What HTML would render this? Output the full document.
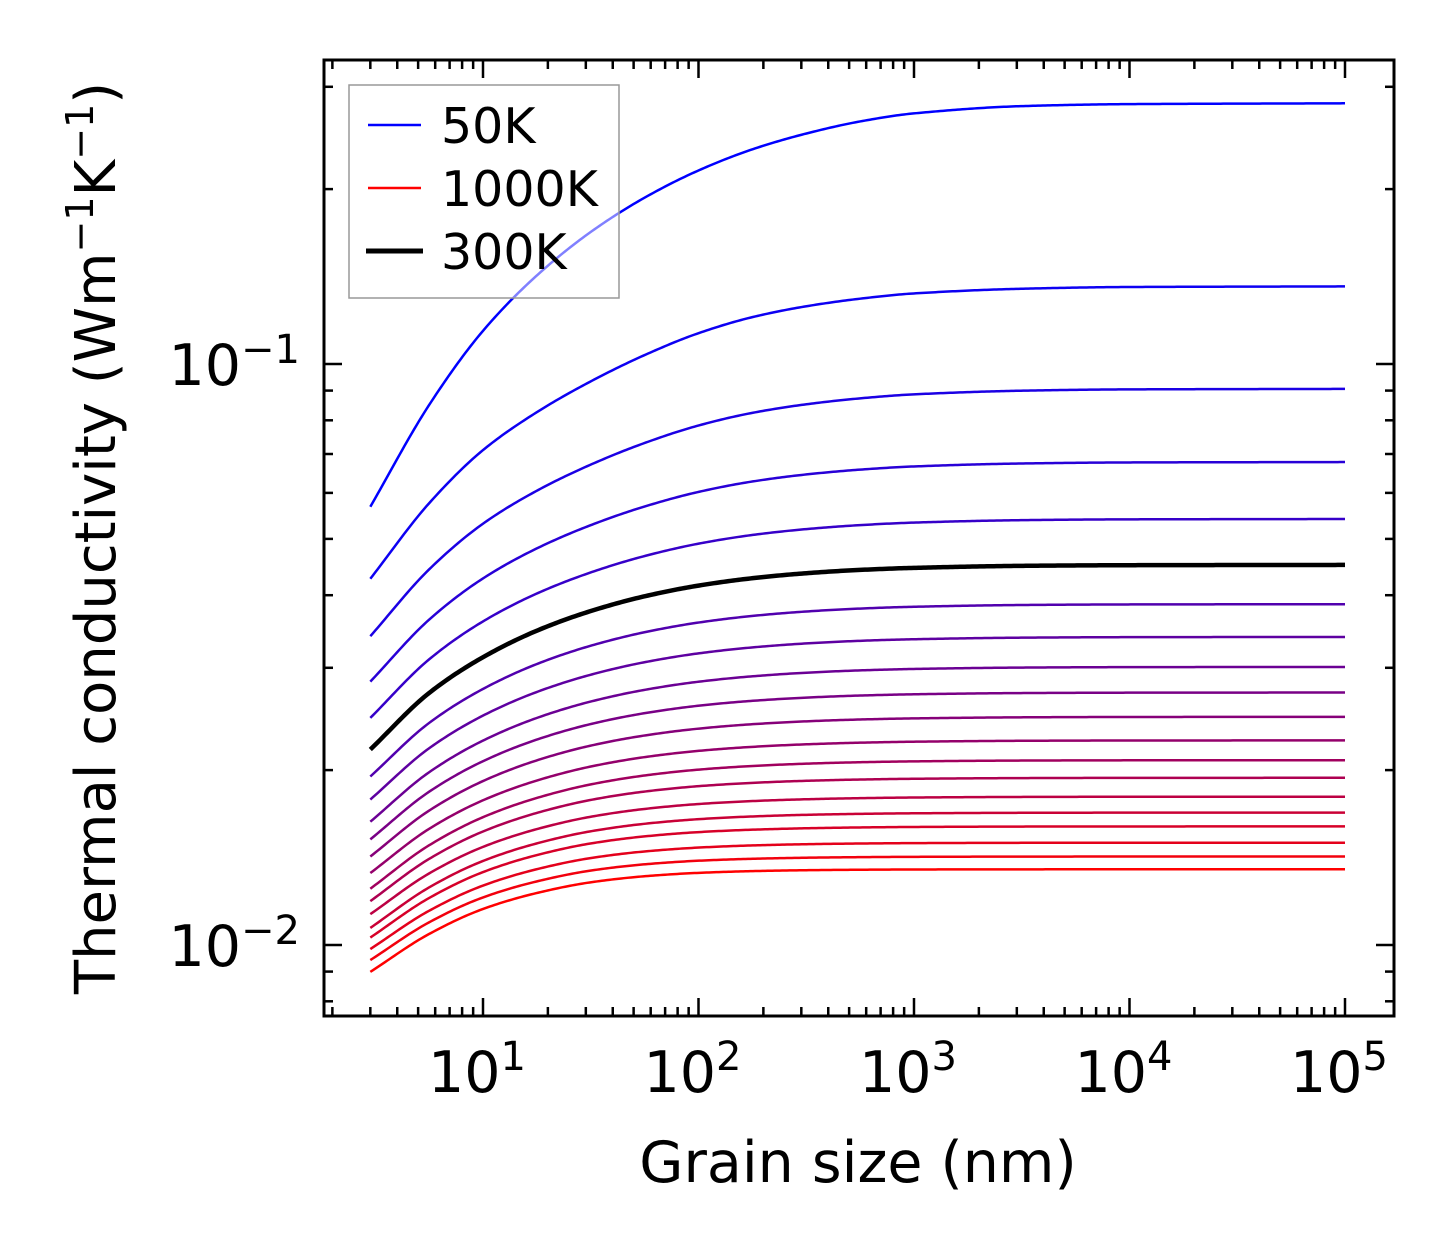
<!DOCTYPE html>
<html><head><meta charset="utf-8"><style>
html,body{margin:0;padding:0;background:#fff}
svg{display:block;font-family:"DejaVu Sans","Liberation Sans",sans-serif}
</style></head><body>
<svg id="chart" width="1454" height="1254" viewBox="0 0 1454 1254" xmlns="http://www.w3.org/2000/svg">
<g id="curves"></g>
<g id="axes"></g>
<text x="858" y="1182" font-size="57" text-anchor="middle">Grain size (nm)</text>
<text transform="translate(115,538) rotate(-90)" font-size="56" text-anchor="middle">Thermal conductivity (Wm<tspan baseline-shift="super" font-size="38">−1</tspan>K<tspan baseline-shift="super" font-size="38">−1</tspan>)</text>
<g>
<rect x="349" y="85" width="270" height="213" fill="rgba(255,255,255,0.5)" stroke="#999" stroke-width="1.5"/>
<g><line x1="368" y1="125" x2="421" y2="125" stroke="#00f" stroke-width="2.5"/><text x="441" y="143" font-size="49">50K</text></g>
<g><line x1="368" y1="188" x2="421" y2="188" stroke="#f00" stroke-width="2.5"/><text x="441" y="206" font-size="49">1000K</text></g>
<g><line x1="366" y1="251" x2="423" y2="251" stroke="#000" stroke-width="5"/><text x="441" y="269" font-size="49">300K</text></g>
</g>
</svg>
<script>
const temperatures=[50,100,150,200,250,300,350,400,450,500,550,600,650,700,750,800,850,900,950,1000];
const kBulk=[0.281,0.136,0.0906,0.0678,0.0541,0.0451,0.0386,0.0339,0.0301,0.0272,0.0247,0.0225,0.0208,0.0194,0.0180,0.0169,0.0160,0.0150,0.0142,0.0135];
const kAt3nm=[0.0568,0.0427,0.0340,0.0284,0.0246,0.0217,0.0195,0.0178,0.0163,0.0152,0.0142,0.0133,0.0125,0.0119,0.0113,0.0107,0.0103,0.00984,0.00942,0.00899];
const grainSizes=[3,5.62,10,17.8,31.6,56.2,100,178,316,562,1000,3162,10000,100000];
// fraction of (log) reduction remaining at each grain size, read for reference curves
const profileTemps=[50,100,300,1000];
const profile50K=[1,0.748,0.564,0.4265,0.319,0.234,0.1665,0.114,0.075,0.045,0.025,0.007,0.002,0];
const profile100K=[1,0.742,0.56,0.43,0.325,0.235,0.16,0.105,0.068,0.042,0.024,0.008,0.002,0];
const profile300K=[1,0.694,0.500,0.356,0.25,0.17,0.112,0.072,0.045,0.027,0.016,0.005,0.0015,0];
const profile1000K=[1,0.631,0.387,0.231,0.127,0.068,0.035,0.018,0.009,0.0045,0.002,0.0005,0.0001,0];
const xTicks=[1,2,3,4,5];
const yTicks=[-2,-1];

const L=324,R=1394,T=60,B=1016;
const X=v=>483+(Math.log10(v)-1)*215.5;
const Y=v=>364-(Math.log10(v)+1)*581;
const NS="http://www.w3.org/2000/svg";
function mk(tag,attrs,parent){const e=document.createElementNS(NS,tag);for(const k in attrs)e.setAttribute(k,attrs[k]);parent.appendChild(e);return e;}
const cg=document.getElementById('curves');
const ag=document.getElementById('axes');
const profiles=[profile50K,profile100K,profile300K,profile1000K];
function profileFor(temp){
  let j=0;while(j<profileTemps.length-2&&temp>profileTemps[j+1])j++;
  const t=Math.max(0,Math.min(1,(temp-profileTemps[j])/(profileTemps[j+1]-profileTemps[j])));
  return profiles[j].map((v,k)=>v+(profiles[j+1][k]-v)*t);
}
function monotone(xs,ys){
  const n=xs.length,d=[],m=[];
  for(let i=0;i<n-1;i++)d.push((ys[i+1]-ys[i])/(xs[i+1]-xs[i]));
  m[0]=d[0];m[n-1]=d[n-2];
  for(let i=1;i<n-1;i++)m[i]=(d[i-1]*d[i]<=0)?0:2/(1/d[i-1]+1/d[i]);
  return x=>{
    let i=0;while(i<n-2&&x>xs[i+1])i++;
    const h=xs[i+1]-xs[i],t=(x-xs[i])/h,t2=t*t,t3=t2*t;
    return (2*t3-3*t2+1)*ys[i]+(t3-2*t2+t)*h*m[i]+(-2*t3+3*t2)*ys[i+1]+(t3-t2)*h*m[i+1];
  };
}
const lg=grainSizes.map(g=>Math.log10(g));
const order=temperatures.map((t,i)=>i).filter(i=>temperatures[i]!==300).concat(temperatures.indexOf(300));
order.forEach(i=>{
  const fn=monotone(lg,profileFor(temperatures[i]));
  const lb=Math.log10(kBulk[i]),ls=Math.log10(kAt3nm[i]);
  const a=lg[0],b=lg[lg.length-1];
  let d='';
  for(let s=0;s<=400;s++){
    const lx=a+(b-a)*s/400;
    const v=Math.pow(10,lb+(ls-lb)*fn(lx));
    d+=(s?'L':'M')+X(Math.pow(10,lx)).toFixed(2)+','+Y(v).toFixed(2);
  }
  const f=i/(temperatures.length-1);
  const is300=temperatures[i]===300;
  const col=is300?'#000':`rgb(${Math.round(255*f)},0,${Math.round(255*(1-f))})`;
  const p=mk('path',{d:d,fill:'none',stroke:col,'stroke-width':is300?4.5:2.5,'stroke-linejoin':'round'},cg);
  
  
});

const fr=mk('rect',{x:L,y:T,width:R-L,height:B-T,fill:'none',stroke:'#000','stroke-width':3},ag);


for(let d=0;d<=5;d++){
  for(let m=1;m<10;m++){
    const v=m*Math.pow(10,d);const x=X(v);
    if(x<L+1||x>R-1)continue;
    const len=m===1?18:9;
    mk('line',{x1:x,y1:B,x2:x,y2:B-len,stroke:'#000','stroke-width':2.5},ag);
    mk('line',{x1:x,y1:T,x2:x,y2:T+len,stroke:'#000','stroke-width':2.5},ag);
  }
}
xTicks.forEach(e=>{
  const t=mk('text',{x:X(Math.pow(10,e))-6,y:1092,'font-size':57,'text-anchor':'middle'},ag);
  t.innerHTML=`10<tspan dy="-22" font-size="40">${e}</tspan>`;
  
  
});
for(let d=-3;d<=0;d++){
  for(let m=1;m<10;m++){
    const v=m*Math.pow(10,d);const y=Y(v);
    if(y<T+1||y>B-1)continue;
    const len=m===1?18:9;
    mk('line',{x1:L,y1:y,x2:L+len,y2:y,stroke:'#000','stroke-width':2.5},ag);
    mk('line',{x1:R,y1:y,x2:R-len,y2:y,stroke:'#000','stroke-width':2.5},ag);
  }
}
yTicks.forEach(e=>{
  const t=mk('text',{x:300,y:Y(Math.pow(10,e))+21,'font-size':57,'text-anchor':'end'},ag);
  t.innerHTML=`10<tspan dy="-22" font-size="40">−${-e}</tspan>`;
  
  
});
</script>
</body></html>
